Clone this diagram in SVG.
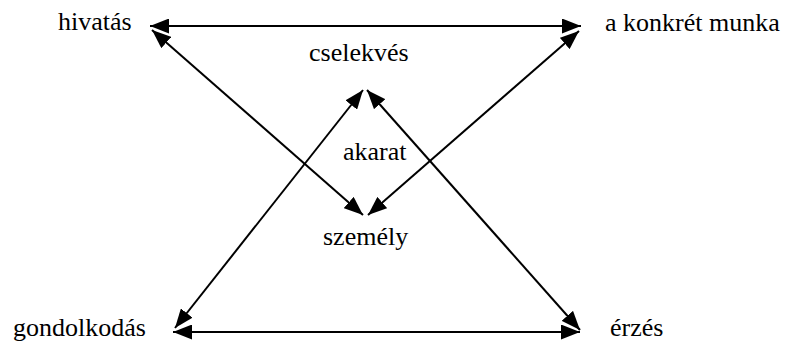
<svg xmlns="http://www.w3.org/2000/svg" width="786" height="343" viewBox="0 0 786 343">
  <style>
    text { font-family: 'Liberation Serif', 'Times New Roman', serif; font-size: 26px; fill: #000; }
    .conn { stroke: #000; stroke-width: 2; fill: none; marker-start: url(#ah); marker-end: url(#ah); }
  </style>
  <defs>
    <marker id="ah" markerUnits="userSpaceOnUse" markerWidth="19" markerHeight="15" refX="19" refY="7.5" orient="auto-start-reverse" viewBox="0 0 19 15">
      <path d="M0,0 L19,7.5 L0,15 z" fill="#000"/>
    </marker>
  </defs>
  <rect width="786" height="343" fill="#fff"/>
  <g id="connectors">
    <line class="conn" x1="150" y1="26" x2="581" y2="26"/>
    <line class="conn" x1="152" y1="30" x2="363" y2="215"/>
    <line class="conn" x1="579" y1="31" x2="368" y2="215"/>
    <line class="conn" x1="175" y1="328" x2="363" y2="90"/>
    <line class="conn" x1="580" y1="330" x2="367" y2="90"/>
    <line class="conn" x1="173" y1="332" x2="580" y2="332"/>
  </g>
  <g id="hivatas"><text x="58" y="30">hivatás</text></g>
  <g id="konkret-munka"><text x="605" y="31">a konkrét munka</text></g>
  <g id="cselekves"><text x="309" y="61">cselekvés</text></g>
  <g id="akarat"><text x="343" y="160">akarat</text></g>
  <g id="szemely"><text x="323" y="245">személy</text></g>
  <g id="gondolkodas"><text x="13" y="336">gondolkodás</text></g>
  <g id="erzes"><text x="610" y="336">érzés</text></g>
</svg>
